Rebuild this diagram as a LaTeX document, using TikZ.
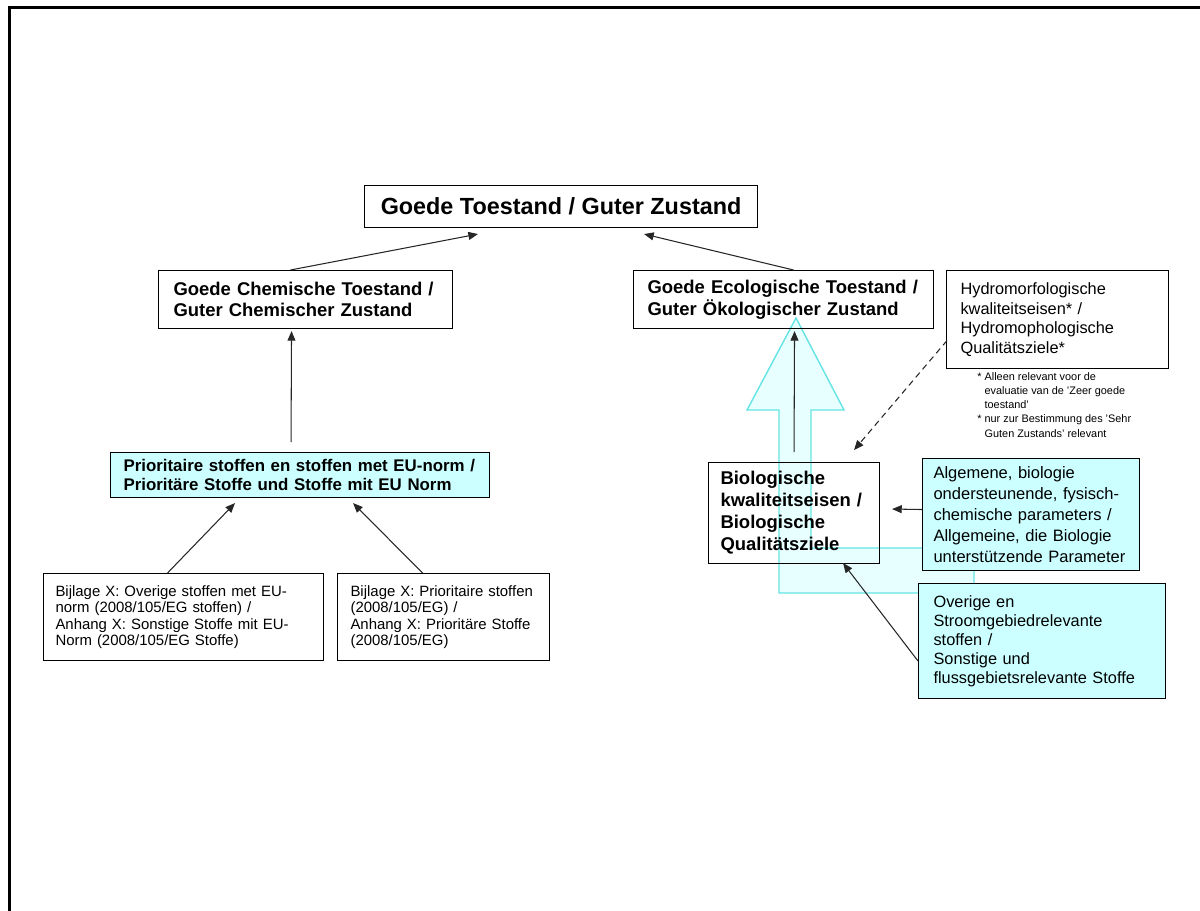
\documentclass[tikz,border=0pt]{standalone}
\usepackage{fontspec}
\setmainfont{Liberation Sans}
\usetikzlibrary{calc,arrows.meta}
\definecolor{paleblue}{RGB}{204,255,255}
\definecolor{arrowfill}{RGB}{232,255,255}
\definecolor{arrowline}{RGB}{100,228,228}
\def\fs#1#2{\fontsize{#1}{#2}\selectfont}

\tikzset{
  box/.style={draw, line width=0.6pt, inner ysep=0pt, align=left, anchor=north west},
  bluebox/.style={box, fill=paleblue},
  arr/.style={-{Triangle[length=5.5pt,width=4.5pt]}, line width=0.6pt, draw=black!85},
  bigarrow/.style={draw=arrowline, fill=arrowfill, line width=0.8pt},
}

\begin{document}
\begin{tikzpicture}[x=0.2mm, y=-0.2mm]
			%%%%% START %%%%%
			\useasboundingbox (0,0) rectangle (1200,911);
			
			\draw[line width=0.6mm] (1200,7.5) -- (9.5,7.5) -- (9.5,911);
			
			% open block arrow behind the right column
			\draw[bigarrow] (796,318) -- (844,410) -- (811,410) -- (811,548) -- (974,548)
			  -- (974,593) -- (779,593) -- (779,410) -- (747,410) -- cycle;
			
			\node[box, align=center, inner xsep=0pt, minimum width=78.6mm, minimum height=8.4mm, font=\fs{13.3}{15}\bfseries]
			  (top) at (364,185) {Goede Toestand / Guter Zustand};
			
			\node[box, inner xsep=3mm, text width=52.8mm, minimum height=11.6mm, font=\fs{10.5}{12.3}\bfseries]
			  (chem) at (158,270) {Goede Chemische Toestand /\\Guter Chemischer Zustand};
			\node[box, inner xsep=2.8mm, text width=54.4mm, minimum height=11.6mm, font=\fs{10.5}{12.3}\bfseries]
			  (eco) at (633,270) {Goede Ecologische Toestand /\\Guter Ökologischer Zustand};
			\node[box, inner xsep=2.8mm, text width=38.8mm, minimum height=19.6mm, font=\fs{9.3}{11.1}]
			  (hydro) at (946,270) {Hydromorfologische\\kwaliteitseisen* /\\Hydromophologische\\Qualitätsziele*};
			\node[anchor=north west, align=left, inner sep=0pt, font=\fs{6.2}{8.1}]
			  (note) at (977,372) {* Alleen relevant voor de\\\hphantom{* }evaluatie van de 'Zeer goede\\\hphantom{* }toestand'\\
			  * nur zur Bestimmung des 'Sehr\\\hphantom{* }Guten Zustands' relevant};
			
			\node[bluebox, inner xsep=2.6mm, text width=70.6mm, minimum height=9mm, font=\fs{9.6}{10.8}\bfseries]
			  (prio) at (110,452) {Prioritaire stoffen en stoffen met EU-norm /\\Prioritäre Stoffe und Stoffe mit EU Norm};
			
			\node[box, inner xsep=2.4mm, text width=51.2mm, minimum height=17.4mm, font=\fs{8.5}{9.4}]
			  (bij1) at (43,573) {Bijlage X: Overige stoffen met EU-\\norm (2008/105/EG stoffen) /\\Anhang X: Sonstige Stoffe mit EU-\\Norm (2008/105/EG Stoffe)};
			\node[box, inner xsep=2.6mm, text width=37.2mm, minimum height=17.4mm, font=\fs{8.5}{9.4}]
			  (bij2) at (337,573) {Bijlage X: Prioritaire stoffen\\(2008/105/EG) /\\Anhang X: Prioritäre Stoffe\\(2008/105/EG)};
			
			\node[box, inner xsep=2.4mm, text width=29.4mm, minimum height=20.2mm, font=\fs{10.5}{12.5}\bfseries]
			  (bio) at (708,462) {Biologische\\kwaliteitseisen /\\Biologische\\Qualitätsziele};
			\node[bluebox, inner xsep=2.2mm, text width=39mm, minimum height=22.4mm, font=\fs{9.4}{12}]
			  (alg) at (922,458) {Algemene, biologie\\ondersteunende, fysisch-\\chemische parameters /\\Allgemeine, die Biologie\\unterstützende Parameter};
			\node[bluebox, inner xsep=3mm, text width=43.4mm, minimum height=23mm, font=\fs{9.3}{10.8}]
			  (ove) at (918,583) {Overige en\\Stroomgebiedrelevante\\stoffen /\\Sonstige und\\flussgebietsrelevante Stoffe};
			
			\draw[arr] ($(chem.north)+(-15,0)$) -- ($(top.south)+(-83,6)$);
			\draw[arr] ($(eco.north)+(10,0)$) -- ($(top.south)+(83,6)$);
			\draw[arr] ($(prio.north)+(-9,-10)$) -- ($(chem.south)+(-14,2)$);
			\draw[arr] ($(bij1.north)+(-16,0)$) -- ($(prio.south)+(-65,5)$);
			\draw[arr] ($(bij2.north)+(-21,0)$) -- ($(prio.south)+(53,5)$);
			
			\draw[arr] ($(bio.north)+(0,-10)$) -- ($(eco.south)+(11,2)$);
			\draw[arr, dash pattern=on 3.5pt off 2.5pt] ($(hydro.west)+(1,21)$) -- ($(bio.north)+(60,-12)$);
			\draw[arr] ($(alg.west)+(0,-5)$) -- ($(bio.east)+(12,-4)$);
			\draw[arr] ($(ove.west)+(0,20)$) -- ($(bio.south)+(49,-1)$);
			%%%%% END %%%%%
\end{tikzpicture}
\end{document}
